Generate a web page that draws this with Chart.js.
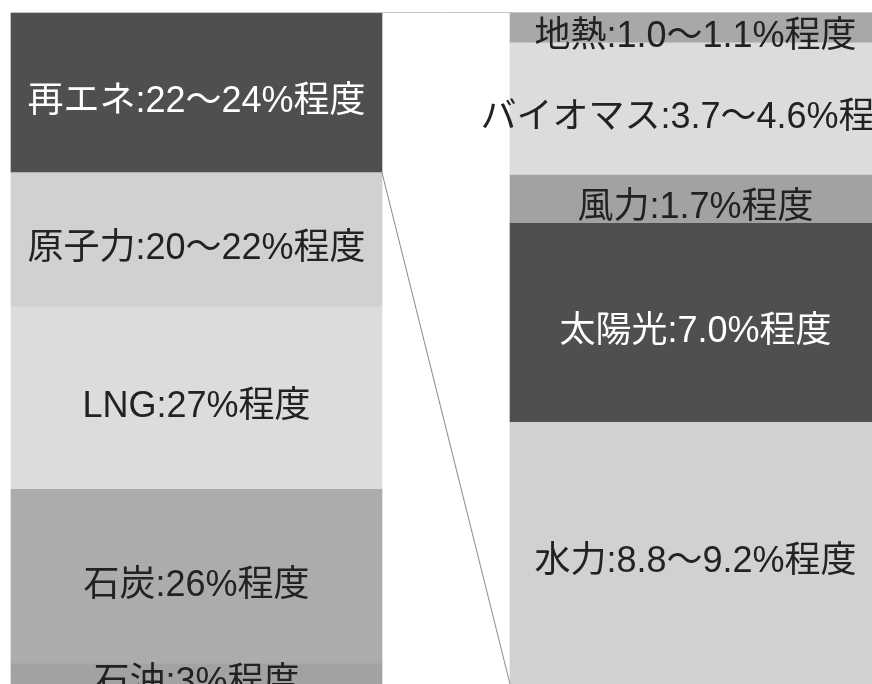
<!DOCTYPE html>
<html lang="ja">
<head>
    <meta charset="UTF-8">
    <title>電源構成</title>
    <script src="https://cdn.jsdelivr.net/npm/chart.js"></script>
    <style>
        html, body {
            margin: 0;
            padding: 0;
            background: #fff;
        }
        .chart-wrap {
            position: relative;
            width: 872px;
            height: 684px;
        }
    </style>
</head>
<body>
    <div class="chart-wrap">
        <canvas id="mixChart"></canvas>
    </div>
    <script>
        // 電源構成（左）と再エネ内訳（右）
        const categories = ['電源構成', '再エネ内訳'];

        // 左の棒：下から順
        const mixNames = ['石油', '石炭', 'LNG', '原子力', '再エネ'];
        const mixValues = [3, 26, 27.2, 20, 23.8];
        const mixLabels = ['石油:3%程度', '石炭:26%程度', 'LNG:27%程度', '原子力:20〜22%程度', '再エネ:22〜24%程度'];

        // 右の棒：下から順
        const reNames = ['水力', '太陽光', '風力', 'バイオマス', '地熱'];
        const reValues = [9.2, 7.0, 1.7, 4.65, 1.05];
        const reLabels = ['水力:8.8〜9.2%程度', '太陽光:7.0%程度', '風力:1.7%程度', 'バイオマス:3.7〜4.6%程度', '地熱:1.0〜1.1%程度'];

        const mixColors = ['#a2a2a2', '#acacac', '#dcdcdc', '#d1d1d1', '#4f4f4f'];
        const reColors = ['#d1d1d1', '#4f4f4f', '#a2a2a2', '#dcdcdc', '#a8a8a8'];
        const darkSegs = ['再エネ', '太陽光'];

        const datasets = [];
        mixNames.forEach((name, i) => {
            datasets.push({
                label: name,
                data: [mixValues[i], null],
                backgroundColor: mixColors[i],
                yAxisID: 'y',
                labelText: mixLabels[i]
            });
        });
        reNames.forEach((name, i) => {
            datasets.push({
                label: name,
                data: [null, reValues[i]],
                backgroundColor: reColors[i],
                yAxisID: 'y2',
                labelText: reLabels[i]
            });
        });

        // 棒の中に文字を書く
        const segLabels = {
            id: 'segLabels',
            afterDatasetsDraw(chart) {
                const ctx = chart.ctx;
                ctx.save();
                ctx.font = '36px "Liberation Sans", "Noto Sans CJK JP", sans-serif';
                ctx.textAlign = 'center';
                ctx.textBaseline = 'middle';
                chart.data.datasets.forEach((ds, di) => {
                    const meta = chart.getDatasetMeta(di);
                    meta.data.forEach((bar, idx) => {
                        if (ds.data[idx] == null) return;
                        const midY = (bar.y + bar.base) / 2 + 9;
                        ctx.fillStyle = darkSegs.includes(ds.label) ? '#ffffff' : '#222222';
                        ctx.fillText(ds.labelText, bar.x, midY);
                    });
                });
                ctx.restore();
            }
        };

        // 上の線と、再エネから内訳への斜線
        const guideLines = {
            id: 'guideLines',
            afterDatasetsDraw(chart) {
                const ctx = chart.ctx;
                const reIdx = mixNames.indexOf('再エネ');
                const reBar = chart.getDatasetMeta(reIdx).data[0];
                const bottomBar = chart.getDatasetMeta(mixNames.length).data[1];
                ctx.save();
                ctx.strokeStyle = '#c4c4c4';
                ctx.lineWidth = 1;
                ctx.beginPath();
                ctx.moveTo(reBar.x - reBar.width / 2, chart.chartArea.top - 0.5);
                ctx.lineTo(chart.width, chart.chartArea.top - 0.5);
                ctx.stroke();
                ctx.strokeStyle = '#8a8a8a';
                ctx.beginPath();
                ctx.moveTo(reBar.x + reBar.width / 2, reBar.base);
                ctx.lineTo(bottomBar.x - bottomBar.width / 2, bottomBar.base);
                ctx.stroke();
                ctx.restore();
            }
        };

        new Chart(document.getElementById('mixChart'), {
            type: 'bar',
            data: {
                labels: categories,
                datasets: datasets
            },
            options: {
                responsive: true,
                maintainAspectRatio: false,
                animation: false,
                layout: {
                    padding: { left: 196.5, right: 176.5, top: 13, bottom: 0 }
                },
                datasets: {
                    bar: {
                        barThickness: 371,
                        grouped: false,
                        borderWidth: 0,
                        clip: false
                    }
                },
                plugins: {
                    legend: { display: false },
                    tooltip: { enabled: false }
                },
                scales: {
                    x: {
                        display: false,
                        offset: false,
                        stacked: true
                    },
                    y: {
                        display: false,
                        stacked: true,
                        min: 0,
                        max: 100
                    },
                    y2: {
                        display: false,
                        stacked: true,
                        min: 0,
                        max: 23.6
                    }
                }
            },
            plugins: [segLabels, guideLines]
        });
    </script>
</body>
</html>
